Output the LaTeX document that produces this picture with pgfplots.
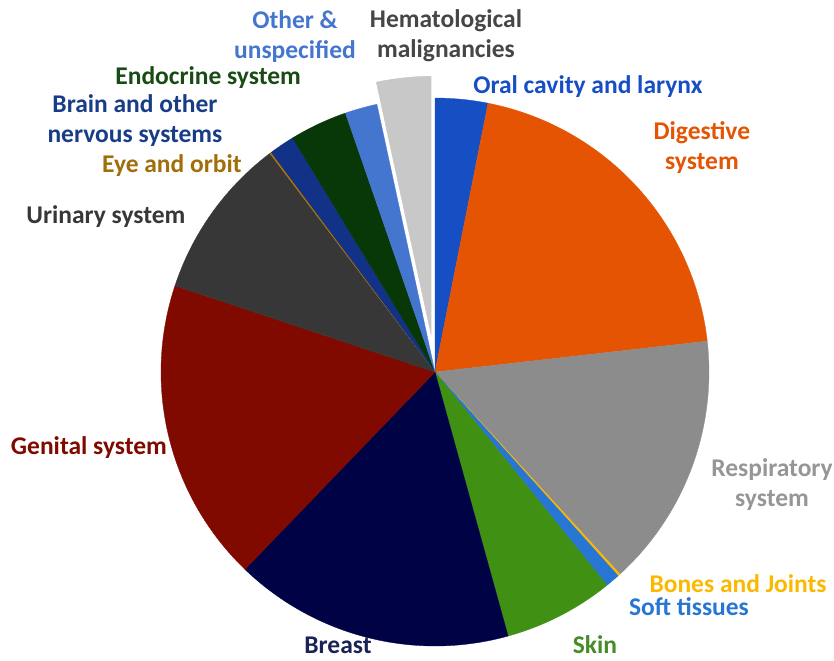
\documentclass[border=0pt]{standalone}
\usepackage{fontspec}
\setmainfont{Carlito}
\usepackage{pgfplots}
\pgfplotsset{compat=1.18}
\definecolor{cOral}{RGB}{22,78,196}
\definecolor{cDig}{RGB}{228,84,2}
\definecolor{cResp}{RGB}{140,140,140}
\definecolor{cResplab}{RGB}{150,150,150}
\definecolor{cBone}{RGB}{250,185,0}
\definecolor{cSoft}{RGB}{40,118,212}
\definecolor{cSkin}{RGB}{64,144,20}
\definecolor{cSkinlab}{RGB}{70,140,40}
\definecolor{cBreast}{RGB}{0,2,70}
\definecolor{cBreastlab}{RGB}{25,35,85}
\definecolor{cGen}{RGB}{128,10,0}
\definecolor{cUri}{RGB}{55,55,55}
\definecolor{cEye}{RGB}{175,115,0}
\definecolor{cEyelab}{RGB}{160,110,10}
\definecolor{cBrain}{RGB}{18,50,135}
\definecolor{cBrainlab}{RGB}{25,60,135}
\definecolor{cEndo}{RGB}{8,55,8}
\definecolor{cEndolab}{RGB}{25,75,20}
\definecolor{cOther}{RGB}{68,118,208}
\definecolor{cHema}{RGB}{200,200,200}
\definecolor{cHemalab}{RGB}{70,70,70}
% slice: start %, end % (clockwise from top), colour, shift x, shift y
\newcommand\slice[5]{%
\addplot[fill=#3, draw=#3, line width=0.3pt, domain={90-3.6*(#2)}:{90-3.6*(#1)}, samples=90, variable=\t]
  ({#4+cos(\t)},{#5+sin(\t)}) -- (axis cs:#4,#5) -- cycle;}
\tikzset{lab/.style={align=center, font=\bfseries\fontsize{25.5}{30}\selectfont, anchor=center}}
\begin{document}
\begin{tikzpicture}
\begin{axis}[
  hide axis, scale only axis, clip=false,
  x=274pt, y=274pt,
  xmin=-1.5876, xmax=1.4562, ymin=-1.0511, ymax=1.3577,
]
\slice{0}{3.1}{cOral}{0}{0}
\slice{3.1}{23.2}{cDig}{0}{0}
\slice{23.2}{38.2}{cResp}{0}{0}
\slice{38.2}{38.35}{cBone}{0}{0}
\slice{38.35}{39.2}{cSoft}{0}{0}
\slice{39.2}{45.7}{cSkin}{0}{0}
\slice{45.7}{62.2}{cBreast}{0}{0}
\slice{62.2}{80.1}{cGen}{0}{0}
\slice{80.1}{89.7}{cUri}{0}{0}
\slice{89.7}{89.8}{cEye}{0}{0}
\slice{89.8}{91.3}{cBrain}{0}{0}
\slice{91.3}{94.7}{cEndo}{0}{0}
\slice{94.7}{96.6}{cOther}{0}{0}
\addplot[fill=cHema, draw=white, line width=2.5pt, domain={90-3.6*(100)}:{90-3.6*(96.6)}, samples=60, variable=\t]
  ({-0.009+cos(\t)},{0.085+sin(\t)}) -- (axis cs:-0.009,0.085) -- cycle;
\node[lab, text=cOther] at (axis cs:-0.511,1.226) {Other \&\\unspecified};
\node[lab, text=cHemalab] at (axis cs:0.040,1.226) {Hematological\\malignancies};
\node[lab, text=cOral] at (axis cs:0.558,1.040) {Oral cavity and larynx};
\node[lab, text=cDig] at (axis cs:0.974,0.818) {Digestive\\system};
\node[lab, text=cResplab] at (axis cs:1.230,-0.412) {Respiratory\\system};
\node[lab, text=cBone] at (axis cs:1.106,-0.774) {Bones and Joints};
\node[lab, text=cSoft] at (axis cs:0.927,-0.858) {Soft tissues};
\node[lab, text=cSkinlab] at (axis cs:0.584,-0.996) {Skin};
\node[lab, text=cBreastlab] at (axis cs:-0.354,-0.996) {Breast};
\node[lab, text=cGen] at (axis cs:-1.263,-0.277) {Genital system};
\node[lab, text=cUri] at (axis cs:-1.201,0.566) {Urinary system};
\node[lab, text=cEyelab] at (axis cs:-0.960,0.755) {Eye and orbit};
\node[lab, text=cBrainlab] at (axis cs:-1.095,0.916) {Brain and other\\nervous systems};
\node[lab, text=cEndolab] at (axis cs:-0.828,1.073) {Endocrine system};
\coordinate (bl) at (axis cs:-1.5876,-1.0511);
\coordinate (tr) at (axis cs:1.4562,1.3577);
\end{axis}
\pgfresetboundingbox
\path (bl) rectangle (tr);
\end{tikzpicture}
\end{document}
